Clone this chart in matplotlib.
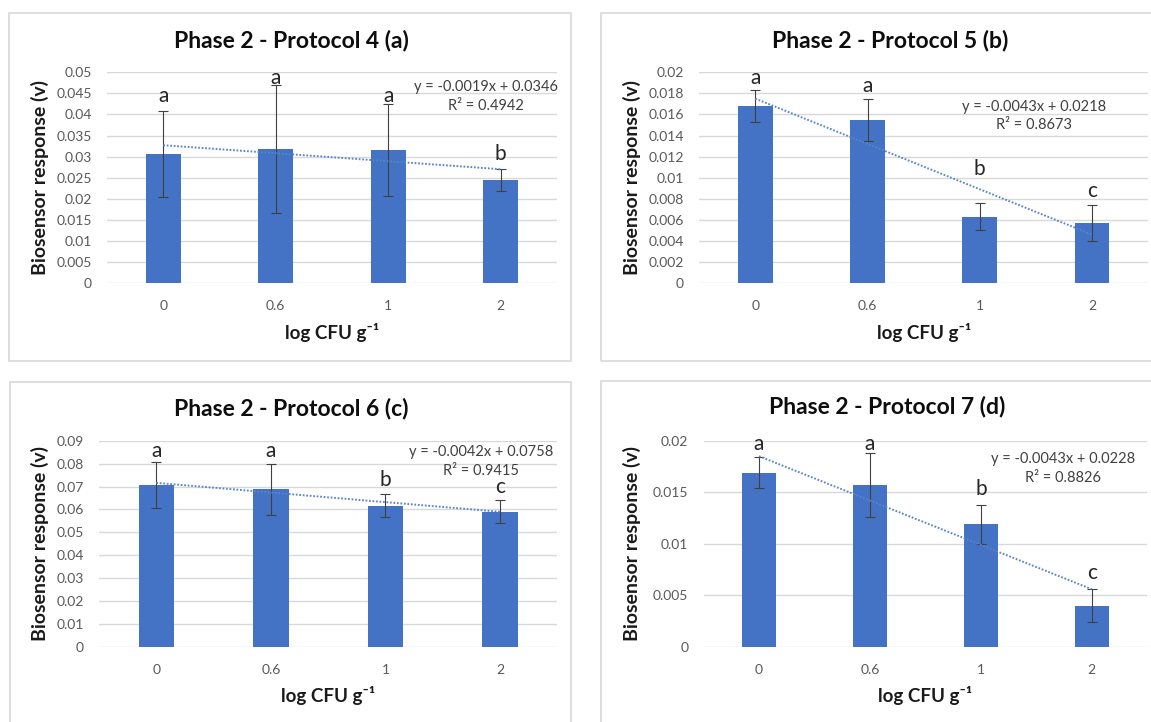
import numpy as np
import matplotlib
matplotlib.use("Agg")
import matplotlib.pyplot as plt
from matplotlib.patches import Rectangle

plt.rcParams['font.family'] = ['Lato', 'DejaVu Sans']

categories = ["0", "0.6", "1", "2"]

titles = ["Phase 2 - Protocol 4 (a)", "Phase 2 - Protocol 5 (b)",
          "Phase 2 - Protocol 6 (c)", "Phase 2 - Protocol 7 (d)"]

vals_a = [0.0306, 0.0318, 0.0316, 0.0244]
err_a = [0.0101, 0.0152, 0.0109, 0.0026]
vals_b = [0.0168, 0.0155, 0.0063, 0.0057]
err_b = [0.0015, 0.0020, 0.0013, 0.0017]
vals_c = [0.0708, 0.0688, 0.0616, 0.0591]
err_c = [0.0101, 0.0110, 0.0051, 0.0052]
vals_d = [0.0169, 0.0157, 0.0119, 0.0040]
err_d = [0.0015, 0.0031, 0.0019, 0.0016]

letters_a = ["a", "a", "a", "b"]
letters_b = ["a", "a", "b", "c"]
letters_c = ["a", "a", "b", "c"]
letters_d = ["a", "a", "b", "c"]

# heights where the significance letters sit (data units)
letter_y_a = [0.0444, 0.0487, 0.0444, 0.0306]
letter_y_b = [0.0195, 0.0187, 0.0108, 0.0087]
letter_y_c = [0.0855, 0.0855, 0.0729, 0.0697]
letter_y_d = [0.0197, 0.0197, 0.0153, 0.0072]

# excel trendline: slope, intercept, R2
trend_a = (-0.0019, 0.0346, 0.4942)
trend_b = (-0.0043, 0.0218, 0.8673)
trend_c = (-0.0042, 0.0758, 0.9415)
trend_d = (-0.0043, 0.0228, 0.8826)

yticks_a = [0, 0.005, 0.01, 0.015, 0.02, 0.025, 0.03, 0.035, 0.04, 0.045, 0.05]
yticks_b = [0, 0.002, 0.004, 0.006, 0.008, 0.01, 0.012, 0.014, 0.016, 0.018, 0.02]
yticks_c = [0, 0.01, 0.02, 0.03, 0.04, 0.05, 0.06, 0.07, 0.08, 0.09]
yticks_d = [0, 0.005, 0.01, 0.015, 0.02]

W, H = 1151, 722
fig = plt.figure(figsize=(W / 100, H / 100), dpi=100)

def px(x0, y0, x1, y1):
    # pixel box -> figure fraction rect
    return [x0 / W, 1 - y1 / H, (x1 - x0) / W, (y1 - y0) / H]

panels = [
    dict(vals=vals_a, err=err_a, letters=letters_a, ly=letter_y_a, trend=trend_a, yt=yticks_a,
         rect=px(107, 72.3, 557, 283), box=(9, 13, 571, 361), title_xy=(291, 47),
         eq_xy=(486, 96.5), ylab_x=-0.149),
    dict(vals=vals_b, err=err_b, letters=letters_b, ly=letter_y_b, trend=trend_b, yt=yticks_b,
         rect=px(699.2, 72.3, 1148.1, 283), box=(601, 13, 1170, 361), title_xy=(890, 47),
         eq_xy=(1034, 116), ylab_x=-0.15),
    dict(vals=vals_c, err=err_c, letters=letters_c, ly=letter_y_c, trend=trend_c, yt=yticks_c,
         rect=px(99, 440.7, 557.3, 647), box=(10, 382, 571, 740), title_xy=(291, 415),
         eq_xy=(481, 461.5), ylab_x=-0.129),
    dict(vals=vals_d, err=err_d, letters=letters_d, ly=letter_y_d, trend=trend_d, yt=yticks_d,
         rect=px(703.5, 440.7, 1147.3, 647), box=(601, 381, 1170, 740), title_xy=(887, 413),
         eq_xy=(1063, 468.5), ylab_x=-0.161),
]

for i, p in enumerate(panels):
    bx0, by0, bx1, by1 = p["box"]
    fig.patches.append(Rectangle((bx0 / W, 1 - by1 / H), (bx1 - bx0) / W, (by1 - by0) / H,
                                 transform=fig.transFigure, fill=False,
                                 edgecolor="#d9d9d9", lw=1.2))

    ax = fig.add_axes(p["rect"])
    x = np.arange(len(categories))
    ax.bar(x, p["vals"], width=0.31, color="#4472c4", zorder=2)
    ax.errorbar(x, p["vals"], yerr=p["err"], fmt="none", ecolor="#404040",
                elinewidth=0.8, capsize=3.5, capthick=0.8, zorder=3)

    m, b, r2 = p["trend"]
    tx = np.array([0, len(categories) - 1])
    ax.plot(tx, m * (tx + 1) + b, color="#5b85c8", lw=1.4,
            linestyle=(0, (0.9, 0.9)), zorder=4)

    for xi, lab, yy in zip(x, p["letters"], p["ly"]):
        ax.text(xi, yy, lab, ha="center", va="center", fontsize=15, color="#262626")

    yt = p["yt"]
    ax.set_ylim(0, yt[-1])
    ax.set_xlim(-0.5, len(categories) - 0.5)
    ax.set_yticks(yt)
    ax.set_yticklabels([("%g" % v) for v in yt])
    ax.set_xticks(x)
    ax.set_xticklabels(categories)
    ax.tick_params(length=0, labelsize=10, labelcolor="#595959")
    ax.tick_params(axis="y", pad=11)
    ax.tick_params(axis="x", pad=12)
    for s in ax.spines.values():
        s.set_visible(False)
    ax.yaxis.grid(True, color="#d9d9d9", lw=1)
    ax.set_axisbelow(True)

    ax.set_xlabel("log CFU g\u207b\u00b9", fontsize=13.5, fontweight="bold", color="#1a1a1a")
    ax.xaxis.set_label_coords(0.5, -0.237)
    ax.xaxis.label.set_va("center")
    ax.set_ylabel("Biosensor response (v)", fontsize=14, fontweight="bold", color="#1a1a1a")
    ax.yaxis.set_label_coords(p["ylab_x"], 0.5)
    ax.yaxis.label.set_va("center")

    ex, ey = p["eq_xy"]
    sign = "-" if m < 0 else ""
    eq = "y = %s%.4fx + %.4f\nR\u00b2 = %.4f" % (sign, abs(m), b, r2)
    fig.text(ex / W, 1 - ey / H, eq, ha="center", va="center", multialignment="center",
             fontsize=10.5, color="#404040", linespacing=1.45)

    tx_, ty_ = p["title_xy"]
    fig.text(tx_ / W, 1 - ty_ / H, titles[i], ha="center", va="baseline",
             fontsize=16.5, fontweight="bold", color="#0d0d0d")

fig.savefig("out.png", dpi=100, facecolor="white")
